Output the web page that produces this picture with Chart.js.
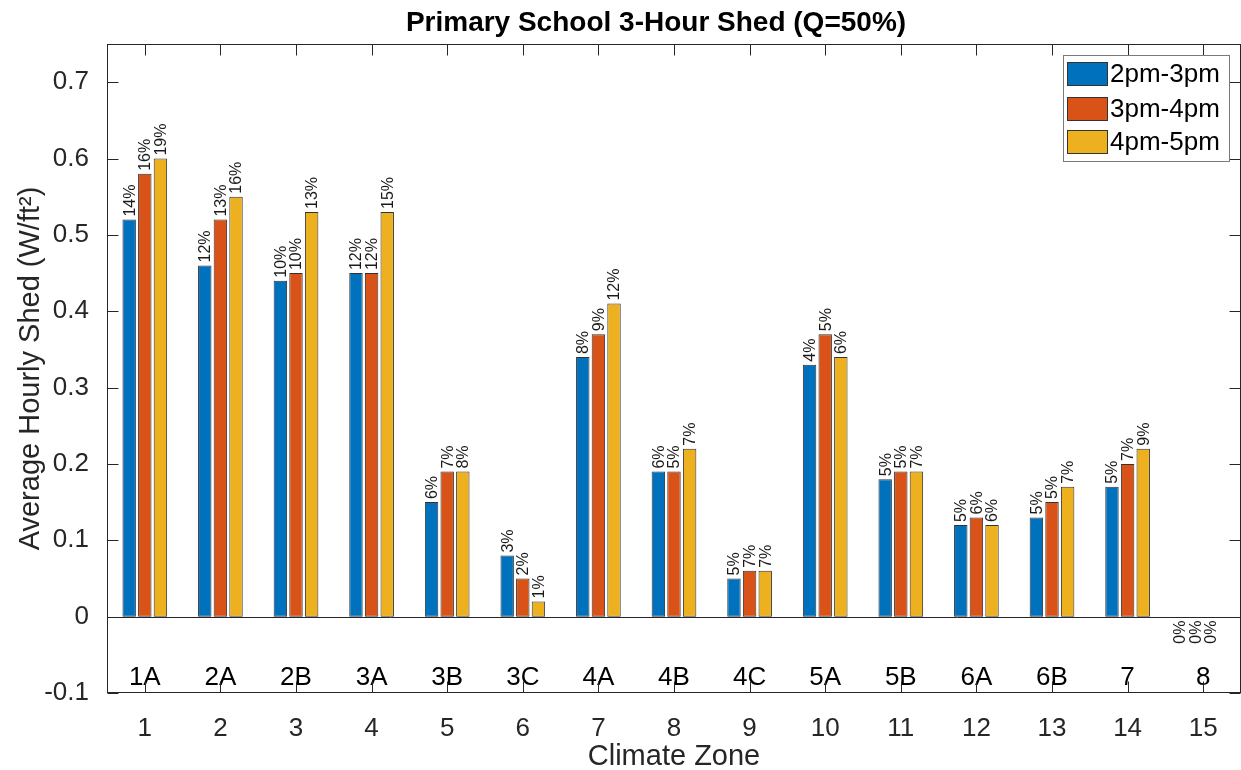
<!DOCTYPE html>
<html><head><meta charset="utf-8">
<script src="https://cdn.jsdelivr.net/npm/chart.js@4/dist/chart.umd.min.js"></script>
<style>html,body{margin:0;padding:0;background:#fff}#wrap{width:1241px;height:770px;position:relative}</style>
</head><body><div id="wrap"><canvas id="c"></canvas></div>
<script>
const chartTitle = 'Primary School 3-Hour Shed (Q=50%)';
const xTitle = 'Climate Zone';
const yTitle = 'Average Hourly Shed (W/ft\u00B2)';
const tickNums = ['1','2','3','4','5','6','7','8','9','10','11','12','13','14','15'];
const zones = ['1A','2A','2B','3A','3B','3C','4A','4B','4C','5A','5B','6A','6B','7','8'];
const seriesLabels = ['2pm-3pm','3pm-4pm','4pm-5pm'];
const shed2to3 = [0.52,0.46,0.44,0.45,0.15,0.08,0.34,0.19,0.05,0.33,0.18,0.12,0.13,0.17,0];
const shed3to4 = [0.58,0.52,0.45,0.45,0.19,0.05,0.37,0.19,0.06,0.37,0.19,0.13,0.15,0.20,0];
const shed4to5 = [0.60,0.55,0.53,0.53,0.19,0.02,0.41,0.22,0.06,0.34,0.19,0.12,0.17,0.22,0];
const pct2to3 = [14,12,10,12,6,3,8,6,5,4,5,5,5,5,0];
const pct3to4 = [16,13,10,12,7,2,9,5,7,5,5,6,5,7,0];
const pct4to5 = [19,16,13,15,8,1,12,7,7,6,7,6,7,9,0];
const yTicks = [-0.1,0,0.1,0.2,0.3,0.4,0.5,0.6,0.7];
const colors = ['#0072BD','#D95319','#EDB120'];

const pctSets = [pct2to3, pct3to4, pct4to5];
const AX = '#262626';
const FONT = '"Liberation Sans", Arial, Helvetica, sans-serif';

const overlay = {
  id: 'overlay',
  afterDatasetsDraw(chart) {
    const ctx = chart.ctx;
    const a = chart.chartArea;
    const xs = chart.scales.x, ys = chart.scales.y;
    ctx.save();
    // zero baseline
    const y0 = Math.round(ys.getPixelForValue(0)) + 0.5;
    ctx.strokeStyle = AX; ctx.lineWidth = 1;
    ctx.beginPath(); ctx.moveTo(a.left, y0); ctx.lineTo(a.right, y0); ctx.stroke();
    // percent labels
    ctx.fillStyle = '#1a1a1a';
    ctx.font = '16px ' + FONT;
    chart.data.datasets.forEach((ds, di) => {
      const meta = chart.getDatasetMeta(di);
      meta.data.forEach((bar, i) => {
        const txt = pctSets[di][i] + '%';
        ctx.save();
        if (ds.data[i] > 0) {
          ctx.translate(bar.x + 1, bar.y - 3);
        } else {
          ctx.translate(bar.x - 7, bar.y + 27);
        }
        ctx.rotate(-Math.PI / 2);
        ctx.textAlign = 'left'; ctx.textBaseline = 'middle';
        ctx.fillText(txt, 0, 0);
        ctx.restore();
      });
    });
    // zone labels
    ctx.fillStyle = '#000';
    ctx.font = '26px ' + FONT;
    ctx.textAlign = 'center'; ctx.textBaseline = 'middle';
    zones.forEach((z, i) => {
      ctx.fillText(z, xs.getPixelForValue(i), 678);
    });
    // box
    const L = Math.round(a.left) + 0.5, R = Math.round(a.right) - 0.5;
    const T = Math.round(a.top) + 0.5, B = Math.round(a.bottom) - 0.5;
    ctx.strokeStyle = AX; ctx.lineWidth = 1;
    ctx.strokeRect(L, T, R - L, B - T);
    // ticks inward
    ctx.beginPath();
    yTicks.forEach(v => {
      const y = Math.round(ys.getPixelForValue(v)) + 0.5;
      ctx.moveTo(L, y); ctx.lineTo(L + 11, y);
      ctx.moveTo(R, y); ctx.lineTo(R - 11, y);
    });
    tickNums.forEach((t, i) => {
      const x = Math.round(xs.getPixelForValue(i)) + 0.5;
      ctx.moveTo(x, B); ctx.lineTo(x, B - 11);
      ctx.moveTo(x, T); ctx.lineTo(x, T + 11);
    });
    ctx.stroke();
    // legend
    const lx = 1063, ly = 55, lw = 166, lh = 106;
    ctx.fillStyle = '#fff';
    ctx.fillRect(lx, ly, lw, lh);
    ctx.strokeStyle = '#7a7a7a';
    ctx.strokeRect(lx + 0.5, ly + 0.5, lw, lh);
    ctx.font = '26px ' + FONT;
    ctx.textAlign = 'left'; ctx.textBaseline = 'middle';
    const rows = [74, 109, 142];
    chart.data.datasets.forEach((ds, di) => {
      const cy = rows[di];
      ctx.fillStyle = ds.backgroundColor;
      ctx.fillRect(lx + 4, cy - 12, 41, 24);
      ctx.strokeStyle = '#333';
      ctx.strokeRect(lx + 4.5, cy - 11.5, 40, 23);
      ctx.fillStyle = '#000';
      ctx.fillText(ds.label, lx + 47, cy + 1);
    });
    // title
    ctx.font = 'bold 28px ' + FONT;
    ctx.fillStyle = '#000';
    ctx.textAlign = 'center'; ctx.textBaseline = 'middle';
    ctx.fillText(chartTitle, 656, 23);
    ctx.restore();
  }
};

const data = {
  labels: tickNums,
  datasets: [shed2to3, shed3to4, shed4to5].map((arr, i) => ({
    label: seriesLabels[i],
    data: arr,
    backgroundColor: colors[i],
    borderColor: '#333333',
    borderWidth: 1,
    borderSkipped: false,
    categoryPercentage: 0.62,
    barPercentage: 0.86
  }))
};

new Chart(document.getElementById('c'), {
  type: 'bar',
  data,
  plugins: [overlay],
  options: {
    responsive: true,
    maintainAspectRatio: false,
    animation: false,
    devicePixelRatio: 1,
    layout: { padding: { top: 44, right: 0, left: 0, bottom: 0 } },
    plugins: { legend: { display: false }, title: { display: false }, tooltip: { enabled: false } },
    scales: {
      x: {
        type: 'category',
        offset: true,
        grid: { display: false },
        border: { display: false },
        ticks: { color: AX, font: { size: 26, family: FONT }, padding: 12, maxRotation: 0, autoSkip: false },
        title: { display: true, text: xTitle, color: AX, font: { size: 29, family: FONT, lineHeight: 0.9 }, padding: 0 },
        afterFit(s) { s.height = 77; }
      },
      y: {
        min: -0.1,
        max: 0.75,
        grid: { display: false },
        border: { display: false },
        ticks: {
          stepSize: 0.1, includeBounds: false, color: AX, padding: 10,
          font: { size: 26, family: FONT },
          callback: v => Math.abs(v) < 1e-9 ? '0' : v.toFixed(1)
        },
        title: { display: true, text: yTitle, color: AX, font: { size: 29, family: FONT, lineHeight: 0.9 }, padding: { top: 18, bottom: 0 } },
        afterFit(s) { s.width = 107; }
      }
    }
  }
});
</script>
</body></html>
